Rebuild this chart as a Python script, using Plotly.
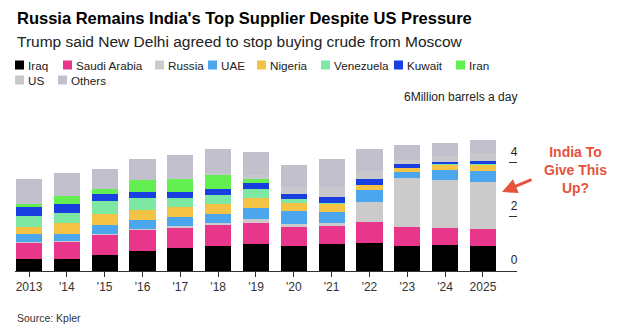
import plotly.graph_objects as go

# ---------------- data (million barrels a day) ----------------
years = ["2013", "'14", "'15", "'16", "'17", "'18", "'19", "'20", "'21", "'22", "'23", "'24", "2025"]

iraq      = [0.43, 0.43, 0.60, 0.72, 0.83, 0.93, 0.98, 0.92, 0.98, 1.02, 0.91, 0.94, 0.91]
saudi     = [0.63, 0.65, 0.76, 0.81, 0.77, 0.78, 0.80, 0.71, 0.69, 0.77, 0.72, 0.64, 0.64]
russia    = [0.02, 0.02, 0.02, 0.02, 0.05, 0.07, 0.12, 0.10, 0.09, 0.75, 1.78, 1.76, 1.72]
uae       = [0.29, 0.28, 0.33, 0.32, 0.33, 0.31, 0.42, 0.49, 0.43, 0.44, 0.25, 0.37, 0.42]
nigeria   = [0.25, 0.39, 0.40, 0.39, 0.38, 0.36, 0.38, 0.27, 0.28, 0.18, 0.13, 0.20, 0.22]
venezuela = [0.39, 0.38, 0.45, 0.44, 0.33, 0.33, 0.32, 0.17, 0.05, 0.00, 0.00, 0.02, 0.03]
kuwait    = [0.36, 0.33, 0.26, 0.21, 0.23, 0.23, 0.21, 0.18, 0.22, 0.23, 0.16, 0.10, 0.11]
iran      = [0.11, 0.27, 0.20, 0.45, 0.48, 0.55, 0.15, 0.00, 0.00, 0.00, 0.00, 0.00, 0.00]
us        = [0.00, 0.00, 0.00, 0.00, 0.03, 0.05, 0.15, 0.25, 0.35, 0.30, 0.15, 0.20, 0.30]
others    = [0.89, 0.87, 0.74, 0.78, 0.85, 0.89, 0.84, 0.83, 1.03, 0.80, 0.52, 0.48, 0.49]

series_names = ["Iraq", "Saudi Arabia", "Russia", "UAE", "Nigeria", "Venezuela", "Kuwait", "Iran", "US", "Others"]
series_values = [iraq, saudi, russia, uae, nigeria, venezuela, kuwait, iran, us, others]
series_colors = ["#000000", "#e8368a", "#cbcbcb", "#4ba6ee", "#f4c244", "#7de8a2",
                 "#1a3fe0", "#63ee52", "#c6c8cc", "#c1c0cc"]

y_tickvals = [0, 2, 4, 6]
y_ticktext = ["0", "2", "4", "6Million barrels a day"]

# legend layout (page pixels): left edge of each swatch and row centre
legend_x = [15, 63, 155, 208, 257, 321, 394, 456, 15, 58]
legend_y = [65, 65, 65, 65, 65, 65, 65, 65, 80, 80]

FONT = "Liberation Sans, Arial, Helvetica, sans-serif"

fig = go.Figure()
for name, vals, col in zip(series_names, series_values, series_colors):
    fig.add_trace(go.Bar(x=years, y=vals, name=name, marker=dict(color=col, line=dict(width=0)),
                         showlegend=False))

fig.update_layout(
    barmode="stack",
    bargap=0.31,
    width=624, height=336,
    margin=dict(l=15, r=107, t=108, b=65),
    paper_bgcolor="white", plot_bgcolor="white",
    font=dict(family=FONT, size=12, color="#222"),
)

fig.update_xaxes(
    type="category",
    range=[-0.37, 12.9],
    showline=True, linecolor="#333", linewidth=1,
    ticks="outside", ticklen=5, tickcolor="#333", tickwidth=1,
    showgrid=False, zeroline=False,
    tickfont=dict(size=12, color="#333"),
)

fig.update_yaxes(
    side="right",
    range=[0, 6],
    tickvals=y_tickvals, ticktext=y_ticktext,
    ticks="inside", ticklen=8, tickcolor="#333", tickwidth=1,
    ticklabelposition="inside",
    ticklabelshift=-11,
    ticklabelstandoff=-9,
    ticklabeloverflow="allow",
    showgrid=False, zeroline=False, showline=False,
    tickfont=dict(size=12, color="#222"),
)

def px_x(px):
    return (px - 15) / 502.0

def px_y(px):
    return (271 - px) / 163.0

# title / subtitle
fig.add_annotation(text="<b>Russia Remains India's Top Supplier Despite US Pressure</b>",
                   xref="paper", yref="paper", x=0, y=px_y(18), xanchor="left", yanchor="middle",
                   showarrow=False, font=dict(size=16.5, color="#000", family=FONT))
fig.add_annotation(text="Trump said New Delhi agreed to stop buying crude from Moscow",
                   xref="paper", yref="paper", x=0, y=px_y(42), xanchor="left", yanchor="middle",
                   showarrow=False, font=dict(size=15.5, color="#222", family=FONT))

# legend (swatches + labels)
for name, col, lx, ly in zip(series_names, series_colors, legend_x, legend_y):
    fig.add_shape(type="rect", xref="paper", yref="paper",
                  x0=px_x(lx), x1=px_x(lx + 9), y0=px_y(ly + 4.5), y1=px_y(ly - 4.5),
                  fillcolor=col, line=dict(width=0), layer="above")
    fig.add_annotation(text=name, xref="paper", yref="paper", x=px_x(lx + 11), y=px_y(ly),
                       xanchor="left", yanchor="middle", showarrow=False,
                       font=dict(size=11.7, color="#222", family=FONT))

# callout
RED = "#e5533d"
fig.add_annotation(text="<b>India To<br>Give This<br>Up?</b>", xref="paper", yref="paper",
                   x=px_x(575), y=px_y(170), xanchor="center", yanchor="middle",
                   showarrow=False, font=dict(size=14, color=RED, family=FONT))
fig.add_annotation(text="", xref="paper", yref="paper", x=px_x(502), y=px_y(192),
                   ax=31, ay=-13, axref="pixel", ayref="pixel", showarrow=True,
                   arrowhead=2, arrowsize=1, arrowwidth=3, arrowcolor=RED, standoff=0)

# source
fig.add_annotation(text="Source: Kpler", xref="paper", yref="paper", x=0, y=px_y(318),
                   xanchor="left", yanchor="middle", showarrow=False,
                   font=dict(size=10.5, color="#333", family=FONT))

fig.write_html("out.html")
